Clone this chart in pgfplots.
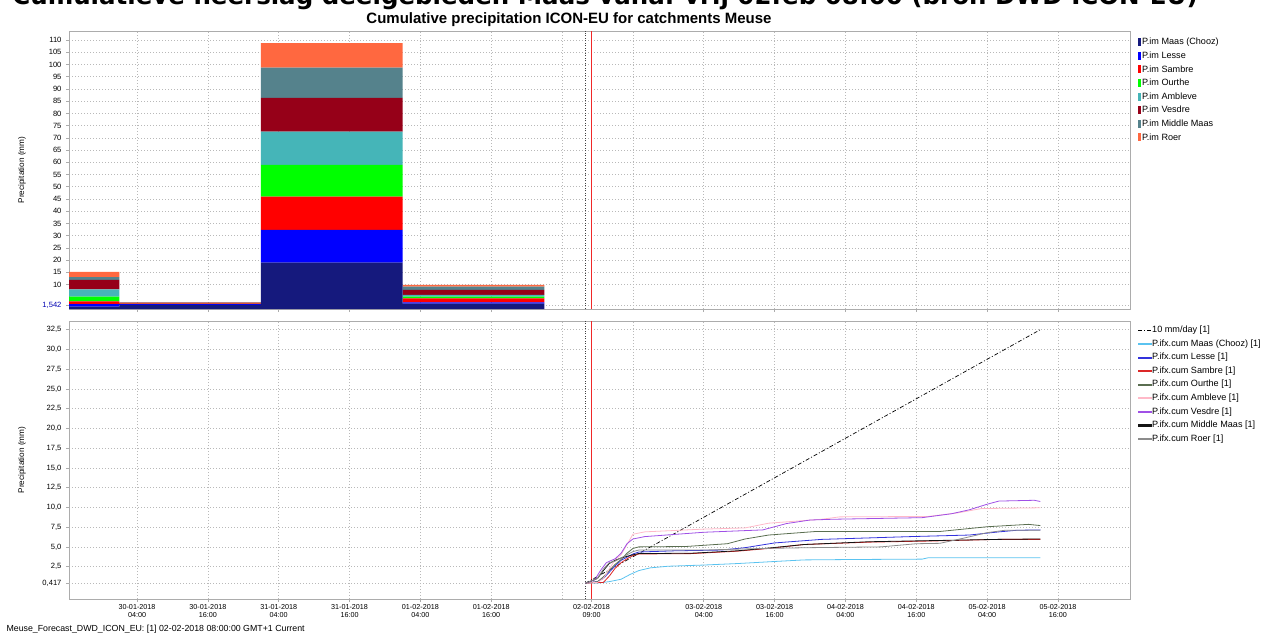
\documentclass[border=0pt]{standalone}
\usepackage{fontspec}
\setmainfont{Liberation Sans}
\newfontfamily\titlefont{DejaVu Sans}
\usepackage{pgfplots}
\pgfplotsset{compat=1.18}

% bar colours (upper panel)
\definecolor{cMaas}{RGB}{21,25,125}
\definecolor{cLesse}{RGB}{0,0,255}
\definecolor{cSambre}{RGB}{255,0,0}
\definecolor{cOurthe}{RGB}{0,255,0}
\definecolor{cAmbleve}{RGB}{69,181,184}
\definecolor{cVesdre}{RGB}{150,0,24}
\definecolor{cMidMaas}{RGB}{85,130,140}
\definecolor{cRoer}{RGB}{255,104,64}
% line colours (lower panel)
\definecolor{lMaas}{RGB}{90,195,240}
\definecolor{lLesse}{RGB}{50,50,220}
\definecolor{lSambre}{RGB}{220,40,40}
\definecolor{lOurthe}{RGB}{90,110,80}
\definecolor{lAmbleve}{RGB}{255,185,200}
\definecolor{lVesdre}{RGB}{160,80,230}
\definecolor{lMidMaas}{RGB}{20,20,20}
\definecolor{lRoer}{RGB}{140,140,140}
\definecolor{nowred}{RGB}{240,40,40}

\pgfplotsset{
  geom/.style={
    scale only axis, width=1061pt, height=278pt,
    xmin=-7.52, xmax=172.2,
  },
  panel/.style={geom,
    xtick={4,16,28,40,52,64,100,112,124,136,148,160},
    minor xtick={76,88},
    xmajorgrids, xminorgrids, ymajorgrids,
    grid style={dash pattern=on 1pt off 2pt, gray!55, line width=0.6pt},
    minor grid style={dash pattern=on 1pt off 2pt, gray!55, line width=0.6pt},
    minor tick length=0pt,
    axis line style={draw=gray!65, line width=0.8pt},
    tick style={gray!65, line width=0.6pt},
    tick align=outside, major tick length=3pt,
    xtick pos=bottom, ytick pos=left,
    /pgf/number format/assume math mode=true,
    yticklabel style={font=\fontsize{7.6}{8}\selectfont, xshift=-1pt},
    ylabel={Precipitation (mm)},
    every axis y label/.style={at={(axis description cs:0,0.5)}, xshift=-47pt,
      rotate=90, anchor=center, font=\fontsize{8.2}{9}\selectfont},
    legend cell align=left,
    legend style={draw=none, fill=none, at={(1,1)}, anchor=north west,
      xshift=7.4pt, inner sep=0pt, row sep=3.9pt,
      font=\fontsize{9.1}{9.5}\selectfont,
      nodes={inner sep=0.6pt, text height=6.5pt, text depth=2pt}},
  },
  barleg/.style={legend image code/.code={\fill[##1] (0pt,-3.5pt) rectangle (3.8pt,4.5pt);}},
  lineleg/.style={legend image code/.code={\fill[##1] (0pt,-0.55pt) rectangle (13pt,0.55pt);}},
  dashleg/.style={legend image code/.code={\draw[##1, line width=1pt] (0pt,0pt) -- (13pt,0pt);}},
  fcline/.style={color=black!75, line width=0.6pt, dash pattern=on 1pt off 1.5pt, forget plot},
  nowline/.style={color=nowred, line width=1.2pt, forget plot},
}

\begin{document}
\begin{tikzpicture}[x=1pt,y=1pt]

\node[font=\titlefont\bfseries\fontsize{24.5}{27}\selectfont, anchor=base] at (605,-5)
  {Cumulatieve neerslag deelgebieden Maas vanaf vrij 02feb 08:00 (bron DWD ICON-EU)};
\node[font=\bfseries\fontsize{15}{17}\selectfont, anchor=base] at (569,-23.3)
  {Cumulative precipitation ICON-EU for catchments Meuse};

% upper panel: daily precipitation per catchment, stacked
\begin{axis}[panel,
  at={(69pt,-31pt)}, anchor=north west,
  ymin=0, ymax=113.7,
  ytick={10,15,...,110},
  extra y ticks={1.542}, extra y tick labels={1{,}542},
  extra y tick style={grid=major, yticklabel style={text=blue!70!black}},
  xticklabels={},
  ybar stacked, bar width=24, bar shift=0pt,
  legend style={yshift=-6.6pt},
]
\addplot[fill=cMaas, draw=none, barleg] coordinates {(-11,1.0) (13,1.7) (37,19.0) (61,2.2)};
\addlegendentry{P.im Maas (Chooz)}
\addplot[fill=cLesse, draw=none, barleg] coordinates {(-11,1.0) (13,0.3) (37,13.4) (61,0.5)};
\addlegendentry{P.im Lesse}
\addplot[fill=cSambre, draw=none, barleg] coordinates {(-11,1.1) (13,0.3) (37,13.6) (61,1.6)};
\addlegendentry{P.im Sambre}
\addplot[fill=cOurthe, draw=none, barleg] coordinates {(-11,2.0) (13,0.1) (37,12.9) (61,0.8)};
\addlegendentry{P.im Ourthe}
\addplot[fill=cAmbleve, draw=none, barleg] coordinates {(-11,2.9) (13,0.1) (37,13.6) (61,0.7)};
\addlegendentry{P.im Ambleve}
\addplot[fill=cVesdre, draw=none, barleg] coordinates {(-11,3.9) (13,0.1) (37,13.8) (61,2.0)};
\addlegendentry{P.im Vesdre}
\addplot[fill=cMidMaas, draw=none, barleg] coordinates {(-11,1.1) (13,0.05) (37,12.4) (61,1.4)};
\addlegendentry{P.im Middle Maas}
\addplot[fill=cRoer, draw=none, barleg] coordinates {(-11,2.2) (13,0.1) (37,10.0) (61,0.7)};
\addlegendentry{P.im Roer}
\end{axis}

% forecast start (08:00) and now (09:00) over the upper panel, unstacked
\begin{axis}[geom, at={(69pt,-31pt)}, anchor=north west, ymin=0, ymax=1, hide axis]
\addplot[fcline] coordinates {(80,0) (80,1)};
\addplot[nowline] coordinates {(81,0) (81,1)};
\end{axis}

% lower panel: cumulative forecast per catchment
\begin{axis}[panel,
  at={(69pt,-321pt)}, anchor=north west,
  ymin=-1.6, ymax=33.6,
  ytick={2.5,5,...,32.5},
  yticklabel style={/pgf/number format/.cd, fixed, fixed zerofill, precision=1, use comma},
  extra y ticks={0.417}, extra y tick labels={0{,}417},
  extra y tick style={grid=major},
  xticklabels={{30-01-2018\\04:00},{30-01-2018\\16:00},{31-01-2018\\04:00},{31-01-2018\\16:00},
    {01-02-2018\\04:00},{01-02-2018\\16:00},{03-02-2018\\04:00},{03-02-2018\\16:00},
    {04-02-2018\\04:00},{04-02-2018\\16:00},{05-02-2018\\04:00},{05-02-2018\\16:00}},
  xticklabel style={align=center, font=\fontsize{7.2}{8.3}\selectfont, yshift=1pt},
  extra x ticks={81}, extra x tick labels={{02-02-2018\\09:00}},
  extra x tick style={grid=none},
  legend style={yshift=-4.2pt},
]
\addplot[fcline] coordinates {(80,-1.6) (80,33.6)};
\addplot[nowline] coordinates {(81,-1.6) (81,33.6)};
\addplot[color=black, line width=0.7pt, dash pattern=on 4pt off 2pt on 1pt off 2pt, dashleg]
  coordinates {(80,0.417) (157,32.5)};
\addlegendentry{10 mm/day [1]}
\addplot[color=lMaas, line width=0.8pt, lineleg] coordinates {
  (80,0.42) (82,0.42) (84,0.6) (86,0.9) (87.5,1.5) (89,2.0) (91,2.35) (94,2.55)
  (100,2.7) (106,2.9) (112,3.15) (117,3.35) (125,3.4) (137,3.45) (138,3.62) (157,3.62)};
\addlegendentry{P.ifx.cum Maas (Chooz) [1]}
\addplot[color=lLesse, line width=0.8pt, lineleg] coordinates {
  (80,0.42) (82,0.6) (83,1.0) (84,1.8) (85,2.6) (86,3.3) (87,3.7) (88,4.1) (89,4.35)
  (95,4.5) (103,4.6) (107,4.9) (112,5.5) (120,5.95) (135,6.3) (145,6.5) (150,6.9)
  (153,7.1) (157,7.15)};
\addlegendentry{P.ifx.cum Lesse [1]}
\addplot[color=lSambre, line width=0.8pt, lineleg] coordinates {
  (80,0.42) (83,0.5) (84,1.3) (85,2.3) (86,3.0) (87,3.5) (88,3.9) (89,4.1) (98,4.15)
  (105.6,4.45) (111,4.8) (117,5.3) (128,5.6) (139,5.75) (150,5.95) (157,5.95)};
\addlegendentry{P.ifx.cum Sambre [1]}
\addplot[color=lOurthe, line width=0.8pt, lineleg] coordinates {
  (80,0.42) (82,0.6) (83,1.2) (84,2.0) (85,2.8) (86,3.4) (87,4.2) (88,4.8) (89,5.0)
  (97,5.05) (104,5.4) (107,6.0) (111,6.5) (119,6.95) (140,6.95) (148,7.55) (155,7.85)
  (157,7.7)};
\addlegendentry{P.ifx.cum Ourthe [1]}
\addplot[color=lAmbleve, line width=0.8pt, lineleg] coordinates {
  (80,0.42) (82,0.5) (83,1.0) (84,2.2) (85,3.4) (86,4.0) (87,5.3) (88,6.6) (90,6.9)
  (100,7.25) (107,7.4) (111,8.0) (120,8.5) (123,8.8) (138,8.85) (143,9.3) (147,9.85)
  (157,9.95)};
\addlegendentry{P.ifx.cum Ambleve [1]}
\addplot[color=lVesdre, line width=0.8pt, lineleg] coordinates {
  (80,0.42) (81.5,0.8) (82.5,2.0) (83.5,3.0) (85,3.5) (86,4.2) (87,5.4) (88,6.0)
  (90,6.3) (100,6.85) (110,7.15) (114,7.95) (118,8.4) (122,8.5) (137,8.7) (142,9.2)
  (145,9.7) (148,10.4) (150,10.8) (156,10.9) (157,10.75)};
\addlegendentry{P.ifx.cum Vesdre [1]}
\addplot[color=lMidMaas, line width=0.8pt, lineleg] coordinates {
  (80,0.42) (82,1.0) (83,2.0) (84,2.9) (85,3.3) (86,3.6) (88,4.0) (89,4.15) (98,4.2)
  (105.6,4.5) (111,4.85) (117,5.3) (128,5.65) (139,5.8) (150,5.95) (157,6.0)};
\addlegendentry{P.ifx.cum Middle Maas [1]}
\addplot[color=lRoer, line width=0.8pt, lineleg] coordinates {
  (80,0.42) (82,1.0) (83,2.2) (84,3.0) (85,3.2) (86,3.6) (88,4.4) (89,4.6) (100,4.6)
  (110,4.8) (118,4.9) (130,5.0) (136,5.4) (140,5.45) (144,6.1) (148,6.8) (151,7.1)
  (157,7.1)};
\addlegendentry{P.ifx.cum Roer [1]}
\end{axis}

\node[anchor=base west, font=\fontsize{8.8}{11}\selectfont] at (3,-631)
  {Meuse\_Forecast\_DWD\_ICON\_EU: [1] 02-02-2018 08:00:00 GMT+1 Current};

\pgfresetboundingbox
\path[use as bounding box] (0,0) rectangle (1262,-636);
\end{tikzpicture}
\end{document}
